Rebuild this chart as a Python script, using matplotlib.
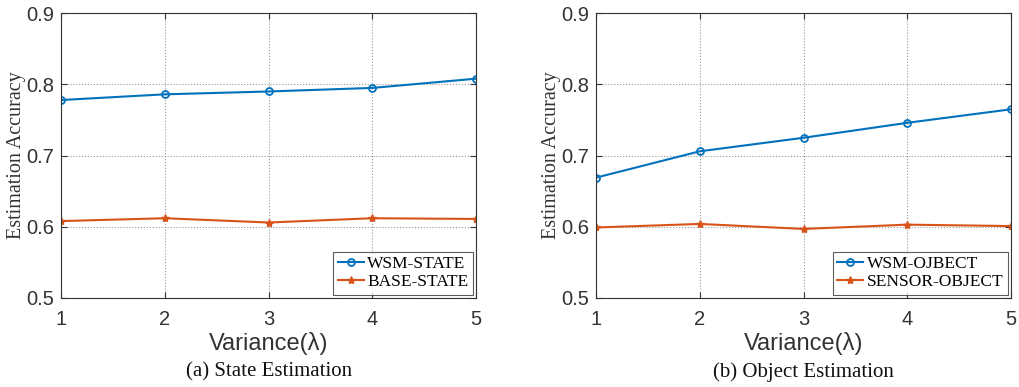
import matplotlib.pyplot as plt

variance = [1, 2, 3, 4, 5]

wsm_state = [0.778, 0.786, 0.790, 0.795, 0.808]
base_state = [0.608, 0.612, 0.606, 0.612, 0.611]

wsm_object = [0.669, 0.706, 0.725, 0.746, 0.765]
sensor_object = [0.599, 0.604, 0.597, 0.603, 0.601]

BLUE = "#0072BD"
ORANGE = "#D95319"
SANS = ["Liberation Sans", "DejaVu Sans"]
SERIF = ["Liberation Serif", "DejaVu Serif"]


def draw_panel(ax, y1, y2, labels):
    ax.plot(variance, y1, color=BLUE, lw=1.5, marker="o", ms=5,
            mfc="none", mew=1.3, label=labels[0])
    ax.plot(variance, y2, color=ORANGE, lw=1.5, marker="*", ms=6,
            mew=1.0, label=labels[1])
    ax.set_xlim(1, 5)
    ax.set_ylim(0.5, 0.9)
    ax.set_xticks(variance)
    ax.set_yticks([0.5, 0.6, 0.7, 0.8, 0.9])
    ax.grid(True, linestyle=":", color="#999999", lw=0.8)
    for s in ax.spines.values():
        s.set_color("#333333")
        s.set_linewidth(0.8)
    ax.tick_params(direction="in", length=4, colors="#333333",
                   labelsize=14.5, top=True, right=True)
    ax.tick_params(axis="x", pad=9)
    ax.tick_params(axis="y", pad=5)
    for t in ax.get_xticklabels() + ax.get_yticklabels():
        t.set_family(SANS)
        t.set_color("#333333")
    ax.set_xlabel("Variance(λ)", family=SANS, fontsize=17, color="#333333",
                  labelpad=2)
    ax.set_ylabel("Estimation Accuracy", family=SERIF, fontsize=14.5,
                  color="#333333", labelpad=0)
    leg = ax.legend(loc="lower right", prop={"family": SERIF, "size": 12.5},
                    fancybox=False, edgecolor="#333333", handlelength=1.5,
                    handletextpad=0.2, borderpad=0.25, labelspacing=0.1,
                    borderaxespad=0.2)
    leg.get_frame().set_linewidth(0.8)


fig = plt.figure(figsize=(10.2, 3.87), dpi=100)
ax1 = fig.add_axes([0.0598, 0.230, 0.4069, 0.736])
ax2 = fig.add_axes([0.5843, 0.230, 0.4069, 0.736])

draw_panel(ax1, wsm_state, base_state, ["WSM-STATE", "BASE-STATE"])
draw_panel(ax2, wsm_object, sensor_object, ["WSM-OJBECT", "SENSOR-OBJECT"])

fig.text(0.2633, 0.039, "(a) State Estimation", ha="center", va="center",
         family=SERIF, fontsize=15, color="#111111")
fig.text(0.7878, 0.039, "(b) Object Estimation", ha="center", va="center",
         family=SERIF, fontsize=15, color="#111111")

fig.savefig("out.png", dpi=100)
